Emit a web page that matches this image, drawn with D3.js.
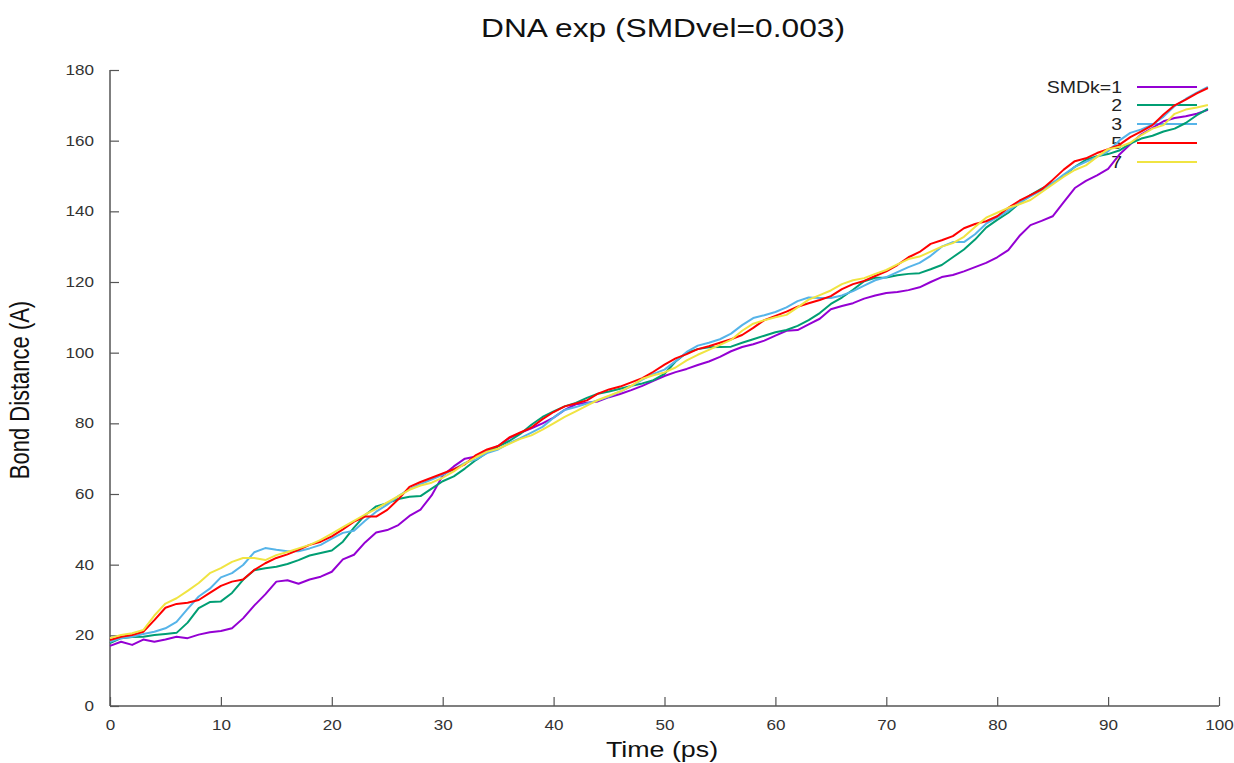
<!DOCTYPE html>
<html>
<head>
<meta charset="utf-8">
<script src="https://cdn.jsdelivr.net/npm/d3@7"></script>
<style>
  body { margin: 0; background: #fff; }
  text { font-family: "Liberation Sans", Arial, sans-serif; }
</style>
</head>
<body>
<div id="wrapper"></div>
<script>
// data (time in ps, bond distance in A)
const labels = ['SMDk=1', '2', '3', '5', '7']
const colors = ['#9400d3', '#009e73', '#56b4e9', '#ff0000', '#f0e442']
const xTicks = [0, 10, 20, 30, 40, 50, 60, 70, 80, 90, 100]
const yTicks = [0, 20, 40, 60, 80, 100, 120, 140, 160, 180]

const k1 = [17.0, 18.2, 17.3, 18.8, 18.2, 18.8, 19.6, 19.2, 20.2, 20.9,
  21.2, 22.0, 24.8, 28.4, 31.6, 35.2, 35.6, 34.6, 35.8, 36.6,
  38.0, 41.5, 42.8, 46.3, 49.1, 49.8, 51.2, 53.8, 55.6, 59.6,
  65.2, 67.8, 70.0, 70.6, 72.2, 73.6, 75.8, 77.3, 78.6, 80.0,
  81.6, 83.8, 85.4, 85.8, 86.2, 87.4, 88.3, 89.4, 90.6, 92.0,
  93.4, 94.5, 95.4, 96.5, 97.5, 98.8, 100.4, 101.6, 102.4, 103.4,
  104.8, 106.2, 106.4, 108.0, 109.6, 112.3, 113.2, 114.0, 115.3, 116.2,
  116.9, 117.2, 117.7, 118.5, 120.0, 121.4, 122.0, 123.0, 124.2, 125.4,
  127.0, 129.0, 133.0, 136.1, 137.3, 138.6, 142.6, 146.6, 148.6, 150.2,
  152.0, 156.0, 159.0, 161.8, 163.6, 165.5, 166.4, 166.9, 167.6, 168.7]

const k2 = [17.8, 19.2, 19.5, 19.6, 20.1, 20.4, 20.7, 23.6, 27.7, 29.4,
  29.6, 32.0, 35.7, 38.4, 39.0, 39.4, 40.2, 41.3, 42.6, 43.3,
  44.0, 46.5, 50.5, 54.0, 56.5, 57.4, 58.6, 59.2, 59.4, 61.5,
  63.6, 65.0, 67.2, 69.6, 71.8, 73.5, 75.0, 77.0, 79.6, 81.8,
  83.4, 84.8, 85.8, 87.2, 88.4, 89.0, 89.8, 90.6, 91.3, 92.2,
  94.0, 97.5, 100.0, 101.0, 101.5, 101.6, 101.7, 102.8, 103.8, 104.8,
  105.8, 106.4, 107.6, 109.2, 111.2, 113.8, 115.6, 117.8, 120.2, 121.2,
  121.3, 121.9, 122.3, 122.5, 123.6, 124.8, 127.0, 129.2, 132.0, 135.4,
  137.6, 139.6, 142.3, 144.6, 146.4, 148.0, 150.0, 152.6, 154.6, 155.6,
  156.2, 157.2, 159.2, 160.6, 161.4, 162.6, 163.4, 165.0, 167.2, 169.0]

const k3 = [18.2, 19.2, 19.6, 20.4, 21.0, 22.0, 23.8, 27.5, 31.0, 33.2,
  36.4, 37.6, 39.9, 43.5, 44.7, 44.2, 43.8, 43.8, 44.6, 45.6,
  47.4, 49.0, 49.6, 52.4, 55.0, 57.0, 59.4, 61.4, 62.8, 64.1,
  65.4, 67.0, 68.8, 69.8, 71.6, 72.6, 74.4, 75.8, 77.4, 79.0,
  81.6, 83.8, 84.6, 85.6, 86.5, 87.6, 89.0, 90.5, 92.4, 94.0,
  95.2, 97.6, 100.2, 102.0, 102.8, 103.8, 105.4, 107.8, 109.8, 110.6,
  111.5, 112.8, 114.6, 115.6, 115.5, 115.5, 116.2, 117.4, 119.0, 120.5,
  121.4, 122.8, 124.2, 125.4, 127.4, 130.0, 131.3, 131.3, 133.5, 136.5,
  138.3, 140.2, 142.4, 144.2, 146.0, 148.0, 150.4, 152.6, 154.0, 155.4,
  157.0, 160.0, 162.2, 163.2, 164.5, 166.8, 169.8, 171.8, 173.6, 175.2]

const k5 = [18.7, 19.6, 20.1, 21.0, 24.3, 27.8, 28.9, 29.2, 30.0, 32.0,
  34.0, 35.2, 35.8, 38.5, 40.4, 41.9, 42.9, 44.2, 45.6, 46.5,
  48.0, 50.0, 52.2, 53.6, 53.6, 55.5, 58.5, 62.0, 63.4, 64.6,
  65.8, 67.0, 68.4, 71.0, 72.6, 73.6, 76.0, 77.4, 78.8, 81.2,
  83.2, 84.8, 85.6, 86.5, 88.4, 89.6, 90.4, 91.6, 92.8, 94.6,
  96.6, 98.4, 99.6, 101.0, 101.8, 102.8, 103.8, 105.0, 107.0, 109.2,
  110.4, 111.6, 113.0, 114.0, 114.9, 116.0, 118.0, 119.4, 120.3, 121.7,
  123.0, 124.8, 127.0, 128.5, 130.8, 131.8, 133.0, 135.2, 136.4, 137.2,
  138.6, 141.0, 143.0, 144.6, 146.2, 148.9, 151.8, 154.2, 155.0, 156.5,
  157.6, 158.8, 161.0, 162.6, 164.4, 167.4, 170.0, 171.6, 173.4, 174.9]

const k7 = [19.2, 20.1, 20.6, 21.5, 25.6, 29.0, 30.5, 32.6, 34.8, 37.6,
  39.0, 40.8, 41.9, 41.9, 41.3, 42.7, 43.6, 44.6, 45.6, 47.0,
  48.8, 50.6, 52.4, 54.2, 55.8, 57.6, 59.4, 61.2, 62.4, 63.2,
  64.6, 66.4, 68.6, 70.4, 72.0, 72.8, 74.2, 75.6, 76.6, 78.2,
  80.0, 81.8, 83.4, 85.0, 86.6, 87.8, 89.0, 90.6, 92.6, 93.6,
  94.4, 95.8, 97.8, 99.4, 100.8, 102.2, 103.6, 106.2, 108.2, 109.2,
  110.0, 110.7, 112.8, 115.0, 116.3, 117.6, 119.4, 120.5, 121.1, 122.3,
  123.4, 125.0, 126.5, 127.2, 128.6, 130.0, 131.0, 132.8, 135.6, 138.2,
  139.6, 141.0, 142.0, 143.2, 145.4, 147.6, 149.8, 151.7, 153.0, 155.4,
  157.6, 158.2, 159.4, 161.6, 163.4, 164.4, 167.6, 168.8, 169.4, 170.1]

const series = [k1, k2, k3, k5, k7]

// the original text looks a bit wider than normal glyphs
const stretch = 1.22

function drawChart() {
  let dimensions = {
    width: 1234,
    height: 763,
    margin: { top: 70, right: 15, bottom: 57, left: 110 }
  }
  dimensions.boundedWidth = dimensions.width - dimensions.margin.left - dimensions.margin.right
  dimensions.boundedHeight = dimensions.height - dimensions.margin.top - dimensions.margin.bottom

  const wrapper = d3.select('#wrapper')
    .append('svg')
      .attr('width', dimensions.width)
      .attr('height', dimensions.height)

  const bounds = wrapper.append('g')
    .attr('transform', `translate(${dimensions.margin.left}, ${dimensions.margin.top})`)

  // scales
  const xScale = d3.scaleLinear()
    .domain([0, 100])
    .range([0, 1109])

  const yScale = d3.scaleLinear()
    .domain([0, 180])
    .range([dimensions.boundedHeight, 0])

  // axes (ticks point inward, gnuplot style)
  const axisColor = '#555'

  const xAxis = bounds.append('g')
    .attr('transform', `translate(0, ${dimensions.boundedHeight})`)
    .call(d3.axisBottom(xScale).tickValues(xTicks).tickSize(-9).tickPadding(14))
  const yAxis = bounds.append('g')
    .call(d3.axisLeft(yScale).tickValues(yTicks).tickSize(-9).tickPadding(16))

  ;[xAxis, yAxis].forEach(ax => {
    ax.select('.domain').attr('stroke', axisColor).attr('stroke-width', 1.5)
    ax.selectAll('.tick line').attr('stroke', axisColor).attr('stroke-width', 1.2)
    ax.selectAll('.tick text')
      .attr('fill', '#333')
      .style('font-size', '14px')
      .style('font-family', '"Liberation Sans", Arial, sans-serif')
  })
  xAxis.selectAll('.tick text').attr('transform', `scale(${stretch},1)`)
  yAxis.selectAll('.tick text')
    .attr('x', -16 / stretch)
    .attr('transform', `scale(${stretch},1)`)

  // only the axis lines, no end caps
  xAxis.select('.domain').attr('d', `M0,0H${xScale(100)}`)
  yAxis.select('.domain').attr('d', `M0,${dimensions.boundedHeight}V0`)

  // legend
  const legend = bounds.append('g')
  const legendY = [17, 35, 54, 73, 92]
  labels.forEach((label, i) => {
    legend.append('line')
      .attr('x1', 1027).attr('x2', 1087)
      .attr('y1', legendY[i]).attr('y2', legendY[i])
      .attr('stroke', colors[i])
      .attr('stroke-width', 2)
  })

  // lines
  const lineGenerator = d3.line()
    .x((d, i) => xScale(i))
    .y(d => yScale(d))

  series.forEach((s, i) => {
    bounds.append('path')
      .datum(s)
      .attr('d', lineGenerator)
      .attr('fill', 'none')
      .attr('stroke', colors[i])
      .attr('stroke-width', 2)
      .attr('stroke-linejoin', 'round')
  })

  labels.forEach((label, i) => {
    legend.append('text')
      .attr('transform', `translate(1012, ${legendY[i]}) scale(${stretch},1)`)
      .attr('dy', '0.35em')
      .attr('text-anchor', 'end')
      .attr('fill', '#222')
      .style('font-size', '16px')
      .text(label)
  })

  // title and axis labels
  wrapper.append('text')
    .attr('transform', `translate(663, 37) scale(${stretch},1)`)
    .attr('text-anchor', 'middle')
    .attr('fill', '#111')
    .style('font-size', '26px')
    .text('DNA exp (SMDvel=0.003)')

  wrapper.append('text')
    .attr('transform', `translate(662, 757) scale(${stretch},1)`)
    .attr('text-anchor', 'middle')
    .attr('fill', '#111')
    .style('font-size', '22px')
    .text('Time (ps)')

  wrapper.append('text')
    .attr('transform', `translate(29, 390) scale(${stretch},1) rotate(-90)`)
    .attr('text-anchor', 'middle')
    .attr('fill', '#111')
    .style('font-size', '22px')
    .text('Bond Distance (A)')
}

drawChart()
</script>
</body>
</html>
